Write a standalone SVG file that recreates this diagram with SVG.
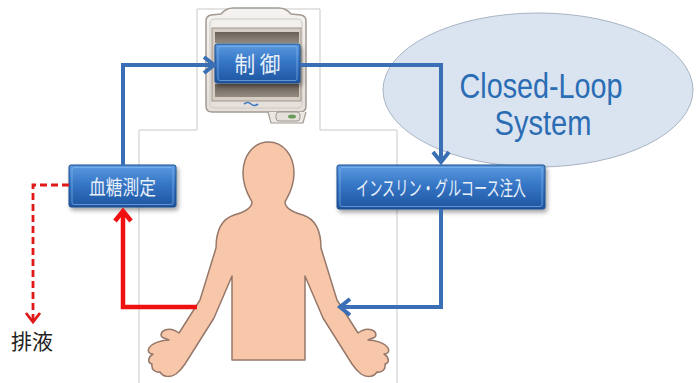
<svg xmlns="http://www.w3.org/2000/svg" width="696" height="383" viewBox="0 0 696 383">
  <defs>
    <linearGradient id="boxFill" x1="0" y1="0" x2="0" y2="1">
      <stop offset="0" stop-color="#5c9be0"/>
      <stop offset="0.45" stop-color="#3676c6"/>
      <stop offset="1" stop-color="#1e559f"/>
    </linearGradient>
    <linearGradient id="bandFill" x1="0" y1="0" x2="0" y2="1">
      <stop offset="0" stop-color="#6a6057"/>
      <stop offset="1" stop-color="#938a80"/>
    </linearGradient>
    <linearGradient id="bezelFill" x1="0" y1="0" x2="0" y2="1">
      <stop offset="0" stop-color="#f5f3f1"/>
      <stop offset="1" stop-color="#e4dfda"/>
    </linearGradient>
    <filter id="shadow" x="-10%" y="-20%" width="130%" height="160%">
      <feDropShadow dx="2" dy="3" stdDeviation="2" flood-color="#000" flood-opacity="0.35"/>
    </filter>
    <marker id="chevBlue" markerUnits="userSpaceOnUse" markerWidth="24" markerHeight="24" refX="0" refY="0" viewBox="-14 -12 18 24" orient="auto">
      <path d="M-10,-8 L0,0 L-10,8" fill="none" stroke="#3b6fb5" stroke-width="4" stroke-linejoin="miter"/>
    </marker>
    <marker id="chevRed" markerUnits="userSpaceOnUse" markerWidth="24" markerHeight="24" refX="0" refY="0" viewBox="-14 -12 18 24" orient="auto">
      <path d="M-10,-8 L0,0 L-10,8" fill="none" stroke="#f01010" stroke-width="4.5" stroke-linejoin="miter"/>
    </marker>
    <marker id="chevDash" markerUnits="userSpaceOnUse" markerWidth="20" markerHeight="20" refX="0" refY="0" viewBox="-12 -10 14 20" orient="auto">
      <path d="M-9,-7 L0,0 L-9,7" fill="none" stroke="#e01818" stroke-width="2.8"/>
    </marker>
  </defs>
  <style>
    .frame { fill: #ffffff; stroke: #c9c9c9; stroke-width: 1; }
    .box { fill: url(#boxFill); stroke: #1b4c8c; stroke-width: 1; filter: url(#shadow); }
    .bevel { fill: none; stroke: #8dbcf0; stroke-width: 1; opacity: 0.6; }
    .label { font-family: "Noto Sans CJK JP", "Noto Sans", sans-serif; fill: #e8f0fa; text-anchor: middle; }
    .blue { fill: none; stroke: #3b6fb5; stroke-width: 4; }
    .red { fill: none; stroke: #f01010; stroke-width: 4.5; }
    .dash { fill: none; stroke: #e01818; stroke-width: 2.8; stroke-dasharray: 7 4; }
    .title { font-family: "Liberation Sans", Arial, sans-serif; fill: #2a6db4; text-anchor: middle; font-size: 35px; }
  </style>

  <rect width="696" height="383" fill="#ffffff"/>

  <!-- Closed-loop ellipse -->
  <g id="closed-loop">
    <ellipse cx="538" cy="90" rx="155" ry="77" fill="#dae3f0" stroke="#a9b4c3" stroke-width="1"/>
    <text class="title" x="541" y="98" textLength="163" lengthAdjust="spacingAndGlyphs">Closed-Loop</text>
    <text class="title" x="543" y="135" textLength="97" lengthAdjust="spacingAndGlyphs">System</text>
  </g>

  <!-- Frame around the device and the body -->
  <path class="frame" d="M139,383 V130 H197 V9 H320 V130 H397 V383"/>

  <!-- Control device -->
  <g id="device">
    <path d="M206,21 Q206,16 211,15 L221,14 Q226,8 233,8 L279,8 Q286,8 291,14 L301,15 Q306,16 306,21 L306,106 Q306,112 300,112 L212,112 Q206,112 206,106 Z" fill="url(#bezelFill)" stroke="#a39a92" stroke-width="1.5"/>
    <path d="M268,112 L271,123 L303,123 L306,112" fill="#ece8e4" stroke="#a39a92" stroke-width="1.2"/>
    <path d="M210,24 Q210,19 215,19 L297,19 Q302,19 302,24 L302,104 Q302,108 297,108 L215,108 Q210,108 210,104 Z" fill="none" stroke="#cfc8c1" stroke-width="1"/>
    <rect x="212" y="28" width="89" height="73" fill="#d6cdc4" stroke="#a0968c" stroke-width="1"/>
    <rect x="215" y="32" width="84" height="11" fill="url(#bandFill)"/>
    <rect x="215" y="84" width="84" height="13" fill="url(#bandFill)"/>
    <path d="M244,104 Q248,101 251,104 T258,104" fill="none" stroke="#3a78c0" stroke-width="1.6"/>
    <rect x="276" y="112" width="24" height="9" rx="3" fill="#e4e0da" stroke="#8e867e" stroke-width="0.8"/>
    <ellipse cx="292" cy="116.5" rx="4" ry="2" fill="#6a9a5a"/>
  </g>

  <!-- Human figure -->
  <g id="body">
    <path d="M268.5,142 C254,142 243,155 243,173 C243,188 249,196 252,202 C252,208 245,212 234,215 C222,219 216,230 216,248 L200,300 L179,333 C175,330 170,328 165,330 C160,332 160,337 164,338 L169,340 C162,340 152,343 149,348 C147,352 150,354 153,354 C148,357 147,363 152,364 C151,369 155,373 160,372 C163,377 170,378 176,374 C180,371 183,367 185,364 L214,318 L232,276 L232,360 L305,360 L305,276 L323,318 L352,364 C354,367 357,371 361,374 C367,378 374,377 377,372 C382,373 386,369 385,364 C390,363 389,357 384,354 C387,354 390,352 388,348 C385,343 375,340 368,340 L373,338 C377,337 377,332 372,330 C367,328 362,330 358,333 L337,300 L321,248 C321,230 315,219 303,215 C292,212 285,208 285,202 C288,196 294,188 294,173 C294,155 283,142 268.5,142 Z" fill="#f8c7aa" stroke="#95786a" stroke-width="1.5" stroke-linejoin="round"/>
  </g>

  <!-- Nodes -->
  <g id="control">
    <rect class="box" x="215" y="44" width="85" height="39" rx="2"/>
    <rect class="bevel" x="218" y="46.5" width="79" height="34" rx="2"/>
    <text class="label" x="257.5" y="72" font-size="22" textLength="46" lengthAdjust="spacingAndGlyphs">制 御</text>
  </g>
  <g id="glucose-measure">
    <rect class="box" x="69" y="165" width="107" height="42" rx="2"/>
    <rect class="bevel" x="72" y="167.5" width="101" height="37" rx="2"/>
    <text class="label" x="122.5" y="195" font-size="20" textLength="67" lengthAdjust="spacingAndGlyphs">血糖測定</text>
  </g>
  <g id="infusion">
    <rect class="box" x="337" y="165" width="208" height="44" rx="2"/>
    <rect class="bevel" x="340" y="167.5" width="202" height="39" rx="2"/>
    <text class="label" x="441" y="196" font-size="20" textLength="170" lengthAdjust="spacingAndGlyphs">インスリン・グルコース注入</text>
  </g>
  <g id="drain">
    <text x="32" y="349" font-family="Noto Sans CJK JP, sans-serif" font-size="21" fill="#222222" text-anchor="middle">排液</text>
  </g>

  <!-- Connectors -->
  <g id="connectors">
    <path class="blue" d="M123,165 V65 H214" marker-end="url(#chevBlue)"/>
    <path class="blue" d="M300,65 H441 V162" marker-end="url(#chevBlue)"/>
    <path class="blue" d="M441,209 V307 H340" marker-end="url(#chevBlue)"/>
    <path class="red" d="M197,307 H123 V211" marker-end="url(#chevRed)"/>
    <path class="dash" d="M69,185 H33 V322" marker-end="url(#chevDash)"/>
  </g>
</svg>
